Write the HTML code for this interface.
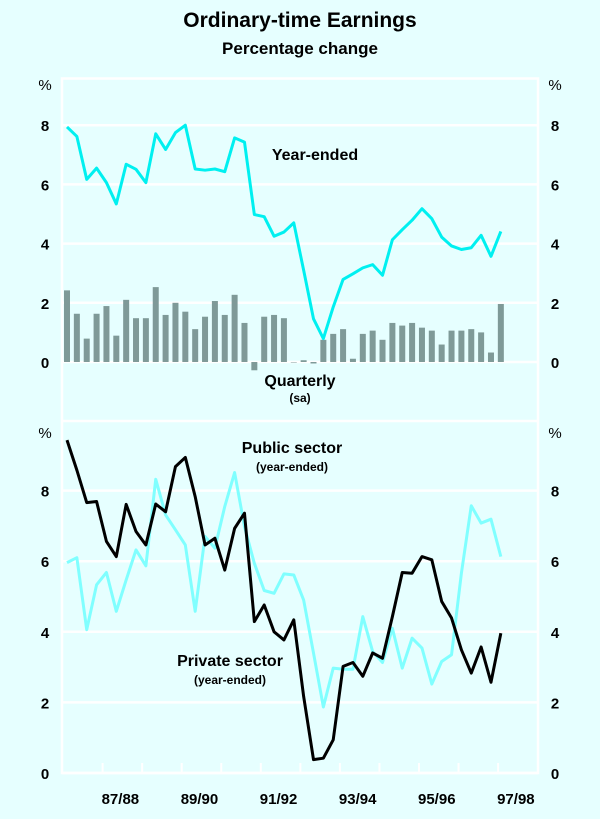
<!DOCTYPE html>
<html><head><meta charset="utf-8">
<style>
body{margin:0;background:#E6FFFF;}
svg{display:block;font-family:"Liberation Sans",Arial,sans-serif;}
</style></head>
<body>
<svg id="chart" width="600" height="819" viewBox="0 0 600 819">
<rect x="0" y="0" width="600" height="819" fill="#E6FFFF"/>
<text x="300" y="27" text-anchor="middle" font-size="21" font-weight="bold">Ordinary-time Earnings</text>
<text x="300" y="54" text-anchor="middle" font-size="17" font-weight="bold">Percentage change</text>
<g id="grid"></g>
<g id="marks"></g>
<g id="labels" font-size="15" font-weight="bold"></g>
<text x="315" y="160" text-anchor="middle" font-size="16" font-weight="bold">Year-ended</text>
<text x="300" y="386" text-anchor="middle" font-size="16" font-weight="bold">Quarterly</text>
<text x="300" y="402" text-anchor="middle" font-size="12" font-weight="bold">(sa)</text>
<text x="292" y="453" text-anchor="middle" font-size="16" font-weight="bold">Public sector</text>
<text x="292" y="471" text-anchor="middle" font-size="12" font-weight="bold">(year-ended)</text>
<text x="230" y="666" text-anchor="middle" font-size="16" font-weight="bold">Private sector</text>
<text x="230" y="684" text-anchor="middle" font-size="12" font-weight="bold">(year-ended)</text>
</svg>
<script>
const quarterly = [2.42,1.63,0.79,1.63,1.89,0.89,2.1,1.48,1.48,2.53,1.59,2.0,1.7,1.11,1.53,2.06,1.59,2.27,1.32,-0.28,1.53,1.59,1.48,0.0,0.06,-0.05,0.75,0.95,1.11,0.11,0.95,1.06,0.75,1.32,1.23,1.32,1.16,1.06,0.59,1.06,1.06,1.11,1.0,0.32,1.96];
const yearEnded = [7.94,7.62,6.17,6.55,6.06,5.34,6.68,6.51,6.06,7.71,7.18,7.75,8.0,6.52,6.48,6.52,6.43,7.57,7.43,4.98,4.91,4.25,4.39,4.7,3.1,1.46,0.79,1.86,2.79,2.98,3.18,3.29,2.93,4.13,4.47,4.79,5.18,4.84,4.22,3.92,3.8,3.86,4.28,3.57,4.41];
const privateSector = [9.43,8.58,7.66,7.69,6.56,6.13,7.61,6.84,6.46,7.62,7.4,8.68,8.94,7.83,6.46,6.65,5.75,6.93,7.36,4.29,4.76,4.0,3.77,4.34,2.17,0.38,0.42,0.94,3.02,3.13,2.74,3.4,3.25,4.43,5.68,5.66,6.13,6.04,4.86,4.39,3.49,2.83,3.57,2.57,3.96];
const publicSector = [5.96,6.1,4.06,5.33,5.68,4.58,5.47,6.32,5.87,8.32,7.31,6.89,6.46,4.58,6.7,6.37,7.55,8.51,6.98,5.94,5.17,5.09,5.64,5.61,4.9,3.4,1.87,2.97,2.94,2.94,4.43,3.44,3.13,4.1,2.97,3.82,3.54,2.52,3.16,3.35,5.66,7.57,7.08,7.19,6.13];
const topTicks = [0,2,4,6,8];
const bottomTicks = [0,2,4,6,8];
const yearLabels = ["87/88","89/90","91/92","93/94","95/96","97/98"];

const NS="http://www.w3.org/2000/svg";
const L=62,R=538;
const xQ=i=>67+i*9.86;
const yTop=v=>362-v*29.6;
const yBot=v=>773-v*35.3;
const xTick=k=>102.6+k*39.55;
function mk(tag,attrs,parent){const e=document.createElementNS(NS,tag);for(const k in attrs)e.setAttribute(k,attrs[k]);parent.appendChild(e);return e;}
const grid=document.getElementById('grid'),marks=document.getElementById('marks'),labels=document.getElementById('labels');

// frame
let f=mk('path',{d:`M${L},78.5 H${R} V773 H${L} Z M${L},421 H${R}`,fill:'none',stroke:'#fff','stroke-width':2.5},grid);


topTicks.forEach(v=>{
 const g=mk('line',{x1:L,x2:R,y1:yTop(v),y2:yTop(v),stroke:'#fff','stroke-width':2.5},grid);
 
 
 [45,555].forEach(x=>{const t=mk('text',{x:x,y:yTop(v)+6,'text-anchor':'middle'},labels);t.textContent=v;
 
 });
});
bottomTicks.forEach(v=>{
 const g=mk('line',{x1:L,x2:R,y1:yBot(v),y2:yBot(v),stroke:'#fff','stroke-width':2.5},grid);
 
 
 [45,555].forEach(x=>{const t=mk('text',{x:x,y:yBot(v)+6,'text-anchor':'middle'},labels);t.textContent=v;
 
 });
});
[[45,90],[555,90],[45,438],[555,438]].forEach(p=>{const t=mk('text',{x:p[0],y:p[1],'text-anchor':'middle','font-weight':'normal'},labels);t.textContent='%';
 
 });
for(let k=0;k<11;k++){const t=mk('line',{x1:xTick(k),x2:xTick(k),y1:773,y2:763,stroke:'#fff','stroke-width':2},grid);
 
 }
yearLabels.forEach((s,i)=>{const t=mk('text',{x:(xTick(2*i)+xTick(2*i+1))/2-2,y:804,'text-anchor':'middle'},labels);t.textContent=s;
 
 });

quarterly.forEach((v,i)=>{
 const y0=yTop(0),y1=yTop(v);
 const b=mk('rect',{x:xQ(i)-3,y:Math.min(y0,y1),width:6,height:Math.max(Math.abs(y1-y0),0.5),fill:'#7F9A98'},marks);
 
 
});
function line(data,yf,color,w,name){
 const p=mk('polyline',{points:data.map((v,i)=>xQ(i)+','+yf(v)).join(' '),fill:'none',stroke:color,'stroke-width':w,'stroke-linejoin':'round'},marks);
 
 
}
line(yearEnded,yTop,'#00F0F0',3,'year-ended-line');
line(publicSector,yBot,'#80FFFF',3,'public-sector-line');
line(privateSector,yBot,'#000000',3,'private-sector-line');
</script>
</body></html>
